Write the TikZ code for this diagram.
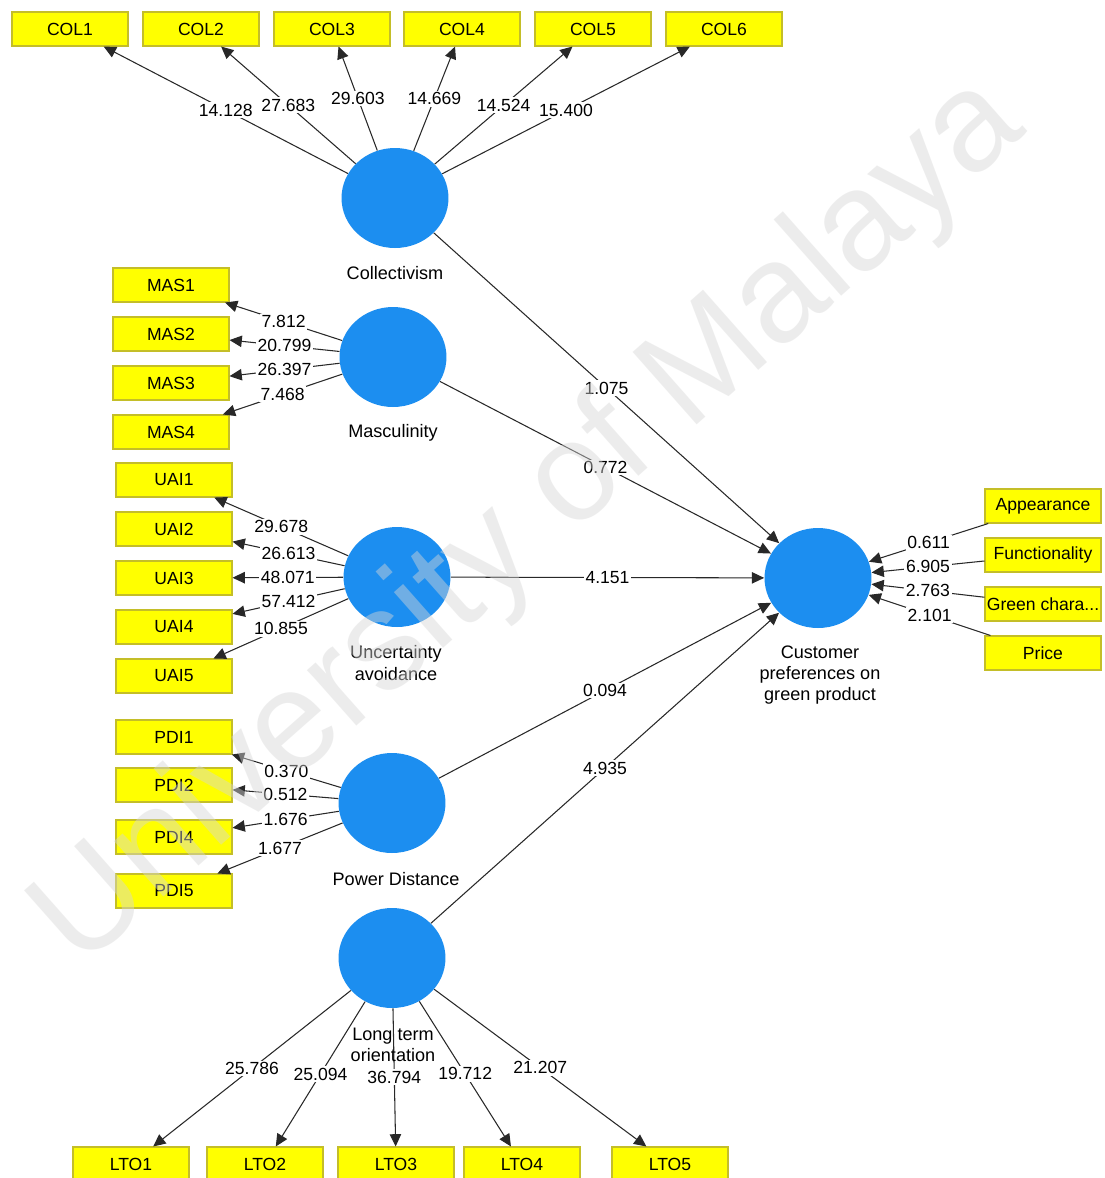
\documentclass[tikz,border=0pt]{standalone}
\usepackage{fontspec}
\setmainfont{Liberation Sans}
\usetikzlibrary{shapes.geometric,arrows.meta}
\definecolor{lvblue}{RGB}{28,142,240}
\definecolor{mvfill}{RGB}{255,255,0}
\definecolor{mvdraw}{RGB}{196,190,40}
\definecolor{edgecol}{RGB}{40,40,40}
\definecolor{wmark}{RGB}{215,215,215}
\begin{document}
\begin{tikzpicture}[x=0.02cm,y=-0.02cm,
  mv/.style={draw=mvdraw, fill=mvfill, line width=0.6pt, minimum width=2.32cm,
             minimum height=0.68cm, inner sep=0pt, font=\fontsize{10}{12}\selectfont},
  lv/.style={ellipse, fill=lvblue, minimum width=2.14cm, minimum height=2.0cm, inner sep=0pt},
  lvname/.style={align=center, font=\fontsize{10.3}{12.2}\selectfont},
  link/.style={draw=edgecol, line width=0.6pt, -{Triangle[length=7pt,width=6.5pt]}},
  val/.style={fill=white, inner sep=1pt, font=\fontsize{10}{12}\selectfont, pos=0.5}
]
\useasboundingbox (0,0) rectangle (1105,1178);
\fill[white] (0,0) rectangle (1105,1178);

% latent variables
\node[lv] (col)  at (395,198) {};
\node[lv] (mas)  at (393,357) {};
\node[lv] (uai)  at (397,577) {};
\node[lv] (pdi)  at (392,803) {};
\node[lv] (lto)  at (392,958) {};
\node[lv] (cust) at (818,578) {};

% indicators: collectivism
\node[mv] (col1) at (70,29)  {COL1};
\node[mv] (col2) at (201,29) {COL2};
\node[mv] (col3) at (332,29) {COL3};
\node[mv] (col4) at (462,29) {COL4};
\node[mv] (col5) at (593,29) {COL5};
\node[mv] (col6) at (724,29) {COL6};
% masculinity
\node[mv] (mas1) at (171,285) {MAS1};
\node[mv] (mas2) at (171,334) {MAS2};
\node[mv] (mas3) at (171,383) {MAS3};
\node[mv] (mas4) at (171,432) {MAS4};
% uncertainty avoidance
\node[mv] (uai1) at (174,480) {UAI1};
\node[mv] (uai2) at (174,529) {UAI2};
\node[mv] (uai3) at (174,578) {UAI3};
\node[mv] (uai4) at (174,627) {UAI4};
\node[mv] (uai5) at (174,676) {UAI5};
% power distance
\node[mv] (pdi1) at (174,737) {PDI1};
\node[mv] (pdi2) at (174,785) {PDI2};
\node[mv] (pdi4) at (174,837) {PDI4};
\node[mv] (pdi5) at (174,891) {PDI5};
% long term orientation
\node[mv] (lto1) at (131,1164) {LTO1};
\node[mv] (lto2) at (265,1164) {LTO2};
\node[mv] (lto3) at (396,1164) {LTO3};
\node[mv] (lto4) at (522,1164) {LTO4};
\node[mv] (lto5) at (670,1164) {LTO5};
% customer preferences
\node[mv] (app)   at (1043,506) {Appearance};
\node[mv] (func)  at (1043,555) {Functionality};
\node[mv] (green) at (1043,604) {Green chara...};
\node[mv] (price) at (1043,653) {Price};

% outer loadings
\draw[link] (col) -- node[val] {14.128} (col1);
\draw[link] (col) -- node[val] {27.683} (col2);
\draw[link] (col) -- node[val] {29.603} (col3);
\draw[link] (col) -- node[val] {14.669} (col4);
\draw[link] (col) -- node[val] {14.524} (col5);
\draw[link] (col) -- node[val] {15.400} (col6);

\draw[link] (mas) -- node[val] {7.812}  (mas1);
\draw[link] (mas) -- node[val] {20.799} (mas2);
\draw[link] (mas) -- node[val] {26.397} (mas3);
\draw[link] (mas) -- node[val] {7.468}  (mas4);

\draw[link] (uai) -- node[val] {29.678} (uai1);
\draw[link] (uai) -- node[val] {26.613} (uai2);
\draw[link] (uai) -- node[val] {48.071} (uai3);
\draw[link] (uai) -- node[val] {57.412} (uai4);
\draw[link] (uai) -- node[val] {10.855} (uai5);

\draw[link] (pdi) -- node[val] {0.370} (pdi1);
\draw[link] (pdi) -- node[val] {0.512} (pdi2);
\draw[link] (pdi) -- node[val] {1.676} (pdi4);
\draw[link] (pdi) -- node[val] {1.677} (pdi5);

\draw[link] (lto) -- node[val] {25.786} (lto1);
\draw[link] (lto) -- node[val] {25.094} (lto2);
\draw[link] (lto) -- node[val] {36.794} (lto3);
\draw[link] (lto) -- node[val] {19.712} (lto4);
\draw[link] (lto) -- node[val] {21.207} (lto5);

\draw[link] (app)   -- node[val] {0.611} (cust);
\draw[link] (func)  -- node[val] {6.905} (cust);
\draw[link] (green) -- node[val] {2.763} (cust);
\draw[link] (price) -- node[val] {2.101} (cust);

% structural paths
\draw[link] (col) -- node[val] {1.075} (cust);
\draw[link] (mas) -- node[val] {0.772} (cust);
\draw[link] (uai) -- node[val] {4.151} (cust);
\draw[link] (pdi) -- node[val] {0.094} (cust);
\draw[link] (lto) -- node[val] {4.935} (cust);

% construct names
\node[lvname] (colname)  at (395,273) {Collectivism};
\node[lvname] (masname)  at (393,433) {Masculinity};
\node[lvname] (uainame)  at (396,663) {Uncertainty\\avoidance};
\node[lvname] (pdiname)  at (396,879) {Power Distance};
\node[lvname] (ltoname)  at (393,1045) {Long term\\orientation};
\node[lvname] (custname) at (820,675) {Customer\\preferences on\\green product};

% watermark
\node[rotate=41.5, text=wmark, text opacity=0.45,
      font=\fontsize{80}{80}\selectfont] (wm) at (530,524) {University of Malaya};
\end{tikzpicture}
\end{document}
